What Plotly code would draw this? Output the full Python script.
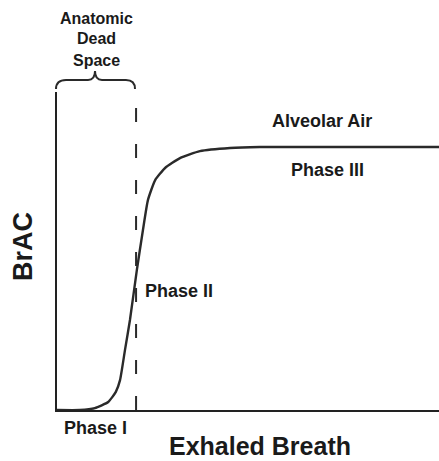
import plotly.graph_objects as go

# Curve (exhaled breath vs BrAC) (0-100 scales)
breath = [0, 6.0, 9.9, 13.4, 15.4, 16.5, 17.8, 19.1, 20.9, 22.5, 23.8, 25.7, 28.3, 32.2, 37.4, 45.3, 53.1, 100]
brac = [0, 0, 0.6, 2.5, 5.7, 9.4, 18.9, 28.3, 44.0, 56.6, 66.0, 72.3, 76.1, 79.2, 81.4, 82.4, 82.7, 82.7]

# Boundary of anatomic dead space
dead_space_x = [20.7, 20.7]
dead_space_y = [0, 100]

W, H = 439, 461
L, R, T, B = 57, 0, 92, 51

def px(x):
    return (x - L) / (W - L - R)

def py(y):
    return (H - B - y) / (H - T - B)

fig = go.Figure()
fig.add_trace(go.Scatter(x=dead_space_x, y=dead_space_y, mode="lines",
                         line=dict(color="#2a2a2a", width=2, dash="14px,22px"),
                         hoverinfo="skip"))
fig.add_trace(go.Scatter(x=breath, y=brac, mode="lines",
                         line=dict(color="#2a2a2a", width=2.4, shape="spline", smoothing=0.5),
                         hoverinfo="skip"))

# Brace over the dead space (pixel path converted to paper coords)
pts = [("M", [(56, 89)]), ("Q", [(56, 80), (66, 80)]), ("L", [(88, 80)]),
       ("Q", [(95, 80), (95, 71)]), ("Q", [(95, 80), (102, 80)]), ("L", [(126, 80)]),
       ("Q", [(135, 80), (135, 89)])]
path = ""
for cmd, ps in pts:
    path += cmd + " " + " ".join(f"{px(a):.4f},{py(b):.4f}" for a, b in ps) + " "
fig.add_shape(type="path", path=path.strip(), xref="paper", yref="paper",
              line=dict(color="#2a2a2a", width=2))

font_b = "Liberation Sans"
def ann(text, x, y, size, angle=0):
    fig.add_annotation(text=f"<b>{text}</b>", x=px(x), y=py(y), xref="paper", yref="paper",
                       showarrow=False, xanchor="center", yanchor="middle", textangle=angle,
                       font=dict(family=font_b, size=size, color="#1a1a1a"))

ann("Anatomic", 96, 18, 16)
ann("Dead", 96, 39, 16)
ann("Space", 96, 61, 16)
ann("Alveolar Air", 322, 121, 18)
ann("Phase III", 327, 170, 18)
ann("Phase II", 179, 291, 18)
ann("Phase I", 95, 428, 18)
ann("Exhaled Breath", 260, 446, 25)
ann("BrAC", 23, 247, 27, angle=-90)

axis = dict(showline=True, linecolor="#222222", linewidth=2.4, showgrid=False,
            zeroline=False, showticklabels=False, ticks="", fixedrange=True)
fig.update_xaxes(range=[0, 100], **axis)
fig.update_yaxes(range=[0, 100], **axis)
fig.update_layout(width=W, height=H, margin=dict(l=L, r=R, t=T, b=B),
                  paper_bgcolor="white", plot_bgcolor="white", showlegend=False)
fig.write_html("out.html", config={"displayModeBar": False},
               post_script="document.body.style.margin='0';document.body.style.overflow='hidden';")
